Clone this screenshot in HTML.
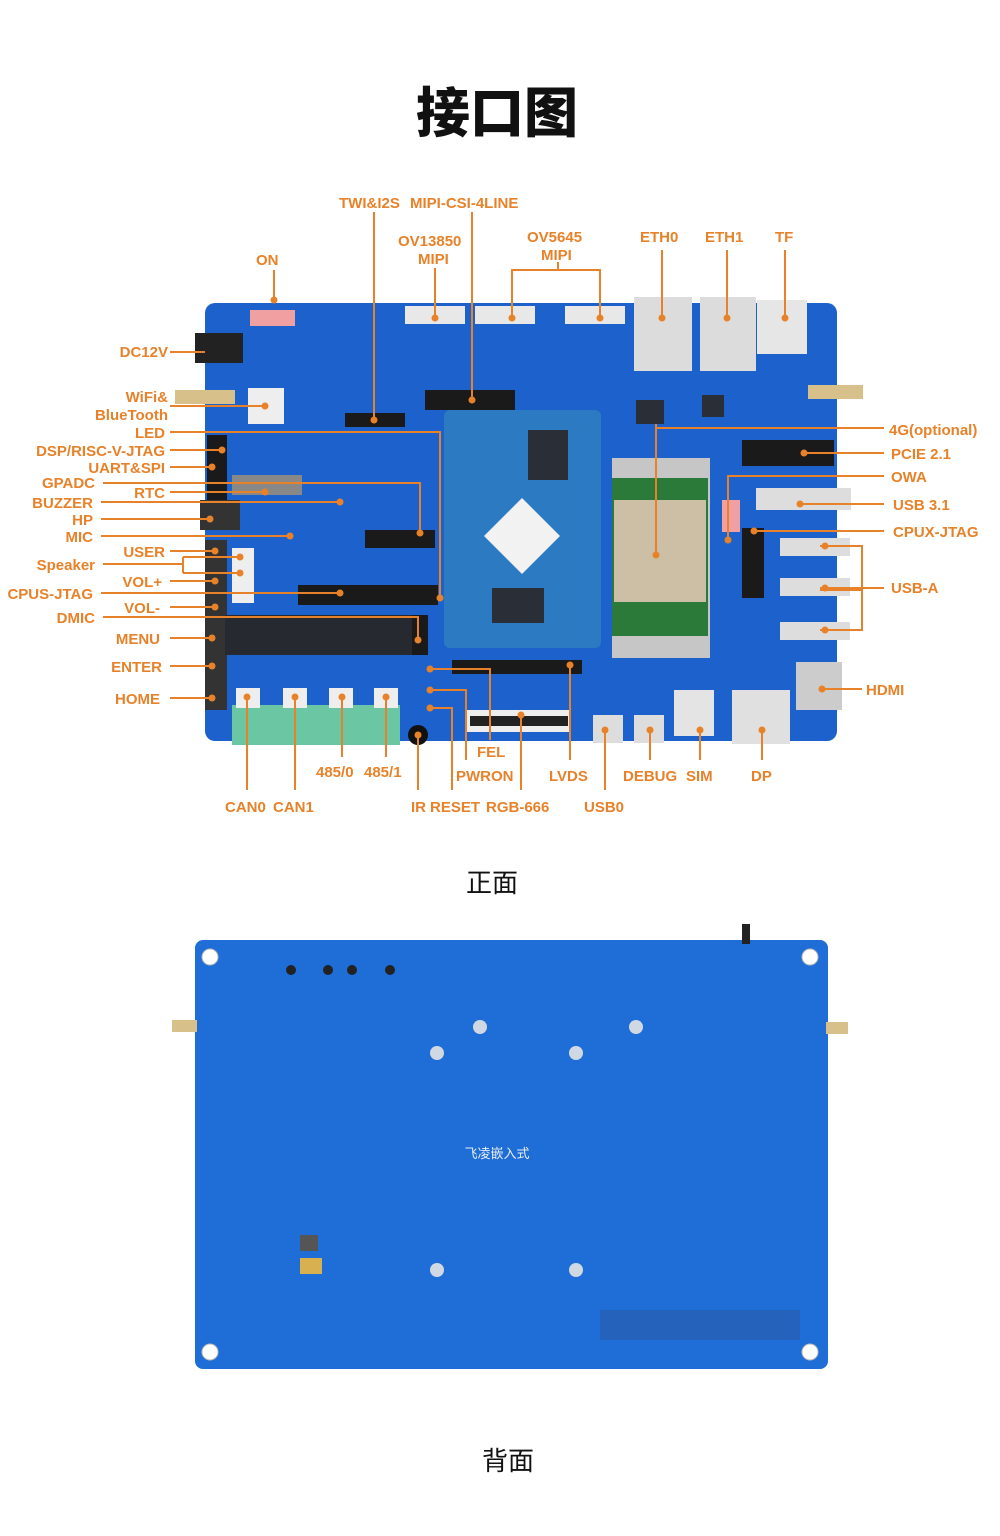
<!DOCTYPE html>
<html><head><meta charset="utf-8">
<style>
html,body{margin:0;padding:0;background:#fff;}
svg{display:block}
.l{font-family:"Liberation Sans","Noto Sans CJK SC",sans-serif;font-size:15px;font-weight:bold;fill:#e8822a}
.c{stroke:#e8822a;stroke-width:2;fill:none}
.d{fill:#e8822a}
</style></head><body>
<svg width="1000" height="1536" viewBox="0 0 1000 1536" xmlns="http://www.w3.org/2000/svg">
<text x="497" y="132" text-anchor="middle" font-family="Noto Sans CJK SC,sans-serif" font-weight="900" font-size="54" fill="#111">接口图</text>

<!-- FRONT BOARD -->
<rect x="205" y="303" width="632" height="438" rx="10" fill="#1d62cc"/>
<!-- top connectors -->
<rect x="405" y="306" width="60" height="18" fill="#e8e8e8"/>
<rect x="475" y="306" width="60" height="18" fill="#e8e8e8"/>
<rect x="565" y="306" width="60" height="18" fill="#e8e8e8"/>
<rect x="634" y="297" width="58" height="74" fill="#dcdcdc"/>
<rect x="700" y="297" width="56" height="74" fill="#dcdcdc"/>
<rect x="757" y="300" width="50" height="54" fill="#e6e6e6"/>
<rect x="195" y="333" width="48" height="30" fill="#222"/>
<rect x="250" y="310" width="45" height="16" fill="#f0a0a0"/>
<rect x="175" y="390" width="60" height="14" fill="#d8c08a"/>
<rect x="248" y="388" width="36" height="36" fill="#eee"/>
<rect x="808" y="385" width="55" height="14" fill="#d8c08a"/>
<rect x="425" y="390" width="90" height="20" fill="#1a1a1a"/>
<rect x="345" y="413" width="60" height="14" fill="#1a1a1a"/>
<rect x="207" y="435" width="20" height="70" fill="#1a1a1a"/>
<rect x="200" y="500" width="40" height="30" fill="#333"/>
<rect x="232" y="475" width="70" height="20" fill="#888"/>
<rect x="205" y="540" width="22" height="170" fill="#333"/>
<rect x="232" y="548" width="22" height="55" fill="#eee"/>
<rect x="225" y="615" width="190" height="40" fill="#262a30"/>
<rect x="298" y="585" width="140" height="20" fill="#1a1a1a"/>
<rect x="412" y="615" width="16" height="40" fill="#1a1a1a"/>
<rect x="365" y="530" width="70" height="18" fill="#1a1a1a"/>
<rect x="232" y="705" width="168" height="40" fill="#6bc7a3"/>
<rect x="236" y="688" width="24" height="20" fill="#eee"/><rect x="283" y="688" width="24" height="20" fill="#eee"/><rect x="329" y="688" width="24" height="20" fill="#eee"/><rect x="374" y="688" width="24" height="20" fill="#eee"/>
<circle cx="418" cy="735" r="10" fill="#111"/>
<rect x="452" y="660" width="130" height="14" fill="#1a1a1a"/>
<rect x="466" y="710" width="105" height="22" fill="#eee"/>
<rect x="470" y="716" width="98" height="10" fill="#222"/>
<!-- core module -->
<rect x="444" y="410" width="157" height="238" rx="6" fill="#2c7ac2"/>
<rect x="528" y="430" width="40" height="50" fill="#2a2e36"/>
<polygon points="522,498 560,536 522,574 484,536" fill="#f2f2f2"/>
<rect x="492" y="588" width="52" height="35" fill="#2a2e36"/>
<!-- 4G module -->
<rect x="612" y="458" width="98" height="200" fill="#c6c6c6"/>
<rect x="612" y="478" width="96" height="158" fill="#2b7a3a"/>
<rect x="614" y="500" width="92" height="102" fill="#cdbfa6"/>
<rect x="636" y="400" width="28" height="24" fill="#2a2e36"/><rect x="702" y="395" width="22" height="22" fill="#2a2e36"/>
<rect x="742" y="440" width="92" height="26" fill="#1a1a1a"/>
<rect x="756" y="488" width="95" height="22" fill="#ddd"/>
<rect x="780" y="538" width="70" height="18" fill="#ddd"/>
<rect x="780" y="578" width="70" height="18" fill="#ddd"/>
<rect x="780" y="622" width="70" height="18" fill="#ddd"/>
<rect x="742" y="528" width="22" height="70" fill="#1a1a1a"/>
<rect x="722" y="500" width="18" height="32" fill="#f0a0a0"/>
<rect x="796" y="662" width="46" height="48" fill="#ccc"/>
<rect x="732" y="690" width="58" height="54" fill="#e0e0e0"/>
<rect x="674" y="690" width="40" height="46" fill="#e4e4e4"/>
<rect x="593" y="715" width="30" height="28" fill="#ddd"/><rect x="634" y="715" width="30" height="28" fill="#ddd"/>

<!-- connectors left -->
<g class="c">
<path d="M274 270V302"/>
<path d="M170 352H205"/>
<path d="M170 406H265"/>
<path d="M170 432H440V598"/>
<path d="M170 450H222"/>
<path d="M170 467H212"/>
<path d="M103 483H420V533"/>
<path d="M170 492H265"/>
<path d="M101 502H340"/>
<path d="M101 519H210"/>
<path d="M101 536H290"/>
<path d="M170 551H215"/>
<path d="M103 564H183V557M183 564V573M183 557H240M183 573H240"/>
<path d="M170 581H215"/>
<path d="M101 593H340"/>
<path d="M170 607H215"/>
<path d="M103 617H418V640"/>
<path d="M170 638H212"/>
<path d="M170 666H212"/>
<path d="M170 698H212"/>
<!-- top -->
<path d="M374 212V420"/>
<path d="M472 212V400"/>
<path d="M435 268V318"/>
<path d="M558 262V270H512V318M558 270H600V318"/>
<path d="M662 250V318"/>
<path d="M727 250V318"/>
<path d="M785 250V318"/>
<!-- right -->
<path d="M656 424V555M656 428H884"/>
<path d="M804 453H884"/>
<path d="M728 540V476H884"/>
<path d="M800 504H884"/>
<path d="M754 531H884"/>
<path d="M820 546H862V630H820M820 588H884M820 590H862"/>
<path d="M822 689H862"/>
<!-- bottom -->
<path d="M247 695V790"/><path d="M295 695V790"/><path d="M342 695V757"/><path d="M386 695V757"/>
<path d="M418 735V790"/>
<path d="M430 669H490V740"/>
<path d="M430 690H466V760"/>
<path d="M430 708H452V790"/>
<path d="M521 715V790"/>
<path d="M570 665V760"/>
<path d="M605 730V790"/>
<path d="M650 730V760"/>
<path d="M700 730V760"/>
<path d="M762 730V760"/>
</g>
<g class="d">
<circle cx="274" cy="300" r="3.5"/><circle cx="265" cy="406" r="3.5"/><circle cx="440" cy="598" r="3.5"/><circle cx="222" cy="450" r="3.5"/><circle cx="212" cy="467" r="3.5"/><circle cx="420" cy="533" r="3.5"/><circle cx="265" cy="492" r="3.5"/><circle cx="340" cy="502" r="3.5"/><circle cx="210" cy="519" r="3.5"/><circle cx="290" cy="536" r="3.5"/><circle cx="215" cy="551" r="3.5"/><circle cx="240" cy="557" r="3.5"/><circle cx="240" cy="573" r="3.5"/><circle cx="215" cy="581" r="3.5"/><circle cx="340" cy="593" r="3.5"/><circle cx="215" cy="607" r="3.5"/><circle cx="418" cy="640" r="3.5"/><circle cx="212" cy="638" r="3.5"/><circle cx="212" cy="666" r="3.5"/><circle cx="212" cy="698" r="3.5"/>
<circle cx="374" cy="420" r="3.5"/><circle cx="472" cy="400" r="3.5"/><circle cx="435" cy="318" r="3.5"/><circle cx="512" cy="318" r="3.5"/><circle cx="600" cy="318" r="3.5"/><circle cx="662" cy="318" r="3.5"/><circle cx="727" cy="318" r="3.5"/><circle cx="785" cy="318" r="3.5"/>
<circle cx="656" cy="555" r="3.5"/><circle cx="804" cy="453" r="3.5"/><circle cx="728" cy="540" r="3.5"/><circle cx="800" cy="504" r="3.5"/><circle cx="754" cy="531" r="3.5"/><circle cx="825" cy="546" r="3.5"/><circle cx="825" cy="588" r="3.5"/><circle cx="825" cy="630" r="3.5"/><circle cx="822" cy="689" r="3.5"/>
<circle cx="247" cy="697" r="3.5"/><circle cx="295" cy="697" r="3.5"/><circle cx="342" cy="697" r="3.5"/><circle cx="386" cy="697" r="3.5"/><circle cx="418" cy="735" r="3.5"/><circle cx="430" cy="669" r="3.5"/><circle cx="430" cy="690" r="3.5"/><circle cx="430" cy="708" r="3.5"/><circle cx="521" cy="715" r="3.5"/><circle cx="570" cy="665" r="3.5"/><circle cx="605" cy="730" r="3.5"/><circle cx="650" cy="730" r="3.5"/><circle cx="700" cy="730" r="3.5"/><circle cx="762" cy="730" r="3.5"/>
</g>

<g class="l">
<text x="256" y="265">ON</text>
<text x="168" y="357" text-anchor="end">DC12V</text>
<text x="168" y="402" text-anchor="end">WiFi&amp;</text>
<text x="168" y="420" text-anchor="end">BlueTooth</text>
<text x="165" y="438" text-anchor="end">LED</text>
<text x="165" y="456" text-anchor="end">DSP/RISC-V-JTAG</text>
<text x="165" y="473" text-anchor="end">UART&amp;SPI</text>
<text x="95" y="488" text-anchor="end">GPADC</text>
<text x="165" y="498" text-anchor="end">RTC</text>
<text x="93" y="508" text-anchor="end">BUZZER</text>
<text x="93" y="525" text-anchor="end">HP</text>
<text x="93" y="542" text-anchor="end">MIC</text>
<text x="165" y="557" text-anchor="end">USER</text>
<text x="95" y="570" text-anchor="end">Speaker</text>
<text x="162" y="587" text-anchor="end">VOL+</text>
<text x="93" y="599" text-anchor="end">CPUS-JTAG</text>
<text x="160" y="613" text-anchor="end">VOL-</text>
<text x="95" y="623" text-anchor="end">DMIC</text>
<text x="160" y="644" text-anchor="end">MENU</text>
<text x="162" y="672" text-anchor="end">ENTER</text>
<text x="160" y="704" text-anchor="end">HOME</text>
<text x="339" y="208">TWI&amp;I2S</text>
<text x="410" y="208">MIPI-CSI-4LINE</text>
<text x="398" y="246">OV13850</text>
<text x="418" y="264">MIPI</text>
<text x="527" y="242">OV5645</text>
<text x="541" y="260">MIPI</text>
<text x="640" y="242">ETH0</text>
<text x="705" y="242">ETH1</text>
<text x="775" y="242">TF</text>
<text x="889" y="435">4G(optional)</text>
<text x="891" y="459">PCIE 2.1</text>
<text x="891" y="482">OWA</text>
<text x="893" y="510">USB 3.1</text>
<text x="893" y="537">CPUX-JTAG</text>
<text x="891" y="593">USB-A</text>
<text x="866" y="695">HDMI</text>
<text x="225" y="812">CAN0</text>
<text x="273" y="812">CAN1</text>
<text x="316" y="777">485/0</text>
<text x="364" y="777">485/1</text>
<text x="477" y="757">FEL</text>
<text x="456" y="781">PWRON</text>
<text x="549" y="781">LVDS</text>
<text x="623" y="781">DEBUG</text>
<text x="686" y="781">SIM</text>
<text x="751" y="781">DP</text>
<text x="411" y="812">IR</text>
<text x="430" y="812">RESET</text>
<text x="486" y="812">RGB-666</text>
<text x="584" y="812">USB0</text>
</g>

<text x="492" y="892" text-anchor="middle" font-family="Noto Sans CJK SC,sans-serif" font-size="26" fill="#111">正面</text>

<!-- BACK BOARD -->
<rect x="195" y="940" width="633" height="429" rx="8" fill="#1f6dd6"/>
<rect x="172" y="1020" width="25" height="12" fill="#d8c08a"/>
<rect x="826" y="1022" width="22" height="12" fill="#d8c08a"/>
<rect x="742" y="924" width="8" height="20" fill="#222"/>
<g fill="#fff" stroke="#bbb"><circle cx="210" cy="957" r="8"/><circle cx="810" cy="957" r="8"/><circle cx="210" cy="1352" r="8"/><circle cx="810" cy="1352" r="8"/></g>
<g fill="#d0d8e4"><circle cx="437" cy="1053" r="7"/><circle cx="576" cy="1053" r="7"/><circle cx="437" cy="1270" r="7"/><circle cx="576" cy="1270" r="7"/><circle cx="480" cy="1027" r="7"/><circle cx="636" cy="1027" r="7"/></g>
<g fill="#222"><circle cx="291" cy="970" r="5"/><circle cx="328" cy="970" r="5"/><circle cx="352" cy="970" r="5"/><circle cx="390" cy="970" r="5"/></g>
<rect x="300" y="1235" width="18" height="16" fill="#555"/>
<rect x="300" y="1258" width="22" height="16" fill="#d8b050"/>
<rect x="600" y="1310" width="200" height="30" fill="#2a5ba8" opacity="0.6"/>
<text x="497" y="1158" text-anchor="middle" font-family="Noto Sans CJK SC,sans-serif" font-size="13" fill="#e8eef8">飞凌嵌入式</text>

<text x="508" y="1470" text-anchor="middle" font-family="Noto Sans CJK SC,sans-serif" font-size="26" fill="#111">背面</text>
</svg>
</body></html>
